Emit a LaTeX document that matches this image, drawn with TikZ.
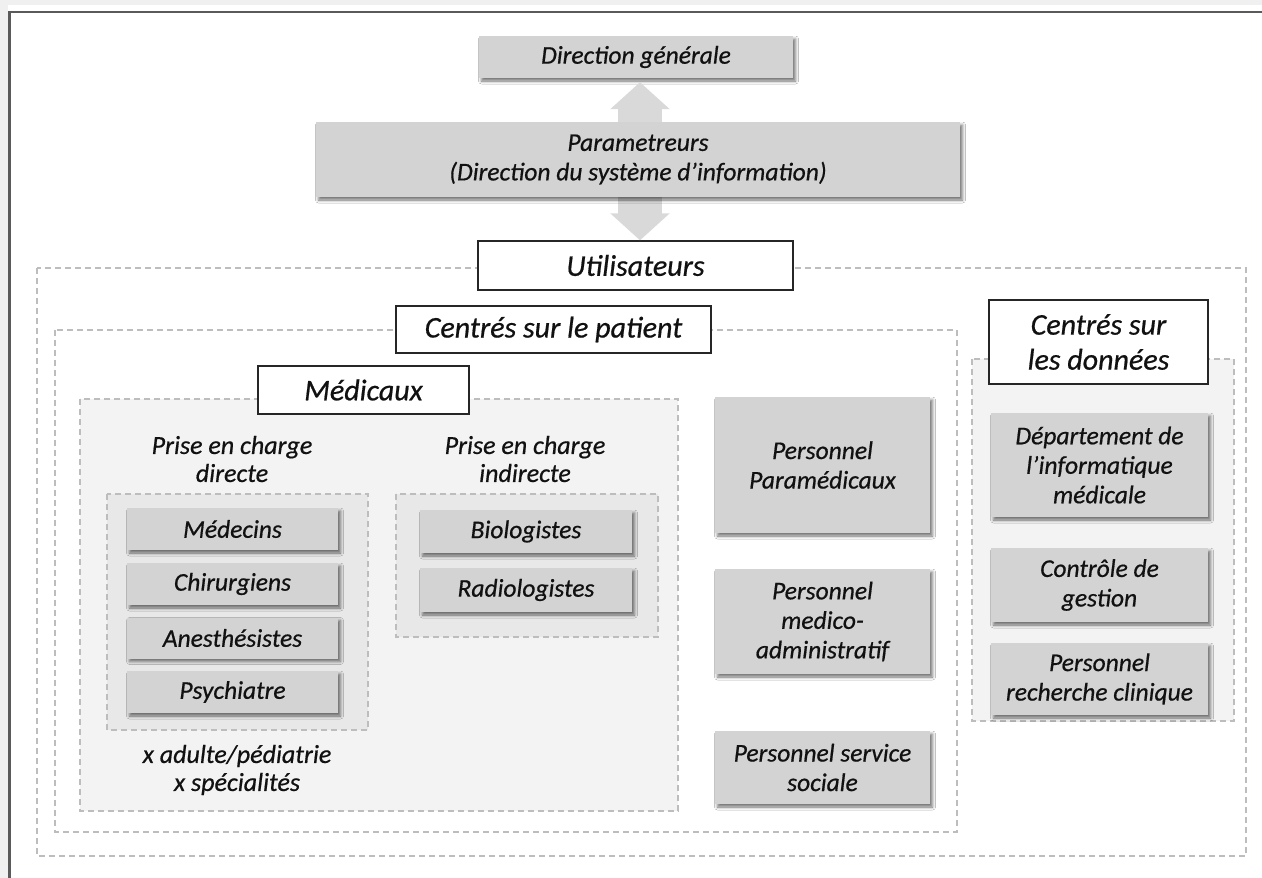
\documentclass[tikz,border=0pt]{standalone}
\usepackage{fontspec}
\setmainfont{Carlito}[ItalicFeatures={FakeBold=0.6}]
\usetikzlibrary{arrows.meta,shadows.blur}

\definecolor{boxgray}{HTML}{D3D3D3}
\definecolor{arrowgray}{HTML}{D9D9D9}
\definecolor{dashgray}{HTML}{BDBDBD}
\definecolor{panelgray}{HTML}{F3F3F3}
\definecolor{innergray}{HTML}{E8E8E8}
\definecolor{framegray}{HTML}{5A5A5A}
\definecolor{pagegray}{HTML}{EFF0EF}
\definecolor{inkgray}{HTML}{111111}

\tikzset{
  every node/.style={text=inkgray},
  graybox/.style={fill=boxgray, align=center, inner sep=0pt,
    font=\fontsize{25.5}{29.5}\itshape,
    blur shadow={shadow xshift=2.5pt, shadow yshift=-3pt,
      shadow blur radius=3pt, shadow opacity=55}},
  labelbox/.style={fill=white, draw=black!85, line width=1.4pt,
    align=center, inner sep=0pt, font=\fontsize{30}{35}\itshape},
  groupbox/.style={draw=dashgray, dash pattern=on 6pt off 4pt, line width=1.3pt},
  plaintext/.style={align=center, inner sep=0pt, font=\fontsize{26}{28}\itshape},
  linkarrow/.style={draw=arrowgray, line width=44pt,
    {Triangle[width=58pt,length=27pt]}-{Triangle[width=58pt,length=27pt]}},
}

\begin{document}
\begin{tikzpicture}[x=1pt, y=-1pt]
\useasboundingbox (0,0) rectangle (1262,878);

% page and frame
\fill[pagegray] (0,0) rectangle (1262,878);
\fill[white] (8,5) rectangle (1262,878);
\draw[framegray, line width=2.5pt] (9.5,878) -- (9.5,12) -- (1262,12);

% nested groups
\draw[groupbox] (37,268) rectangle (1246,856);
\draw[groupbox, fill=white] (55,330) rectangle (957,832);
\draw[groupbox, fill=panelgray] (80,399) rectangle (678,811);
\draw[groupbox, fill=innergray] (107,494) rectangle (368,730);
\draw[groupbox, fill=innergray] (396,494) rectangle (658,637);
\draw[groupbox, fill=panelgray] (972,359) rectangle (1234,721);

% top of the hierarchy
\node[graybox, minimum width=314, minimum height=42] (dg) at (636,57) {Direction générale};
\node[labelbox, minimum width=315, minimum height=49] (ut) at (635.5,265.5) {Utilisateurs};
\draw[linkarrow, shorten <=4pt] (dg.south -| 640,0) -- (ut.north -| 640,0);
\node[graybox, minimum width=644, minimum height=75] (par) at (638,159.5)
  {Parametreurs\\(Direction du système d’information)};

% group labels
\node[labelbox, minimum width=315, minimum height=47] (csp) at (553.5,329.5) {Centrés sur le patient};
\node[labelbox, minimum width=211, minimum height=48] (med) at (363.5,390) {Médicaux};
\node[labelbox, minimum width=219, minimum height=84] (csd) at (1098.5,342) {Centrés sur\\les données};

% medical staff
\node[plaintext] (pdir) at (232,459) {Prise en charge\\directe};
\node[plaintext] (pind) at (525,459) {Prise en charge\\indirecte};
\node[graybox, minimum width=211, minimum height=42] (medecins) at (232.5,529) {Médecins};
\node[graybox, minimum width=211, minimum height=42] (chir) at (232.5,584) {Chirurgiens};
\node[graybox, minimum width=211, minimum height=41] (anes) at (232.5,638) {Anesthésistes};
\node[graybox, minimum width=211, minimum height=42] (psy) at (232.5,692) {Psychiatre};
\node[plaintext] (mult) at (237,770) {x adulte/pédiatrie\\x spécialités};
\node[graybox, minimum width=212, minimum height=43] (bio) at (526,531.5) {Biologistes};
\node[graybox, minimum width=212, minimum height=44] (radio) at (526,590) {Radiologistes};

% other patient-centred staff
\node[graybox, minimum width=215, minimum height=136] (para) at (822.5,465) {Personnel\\Paramédicaux};
\node[graybox, minimum width=215, minimum height=105] (madm) at (822.5,621.5) {Personnel\\medico-\\administratif};
\node[graybox, minimum width=215, minimum height=73] (soc) at (822.5,767.5) {Personnel service\\sociale};

% data-centred staff
\node[graybox, minimum width=217, minimum height=104] (dim) at (1099.5,465) {Département de\\l’informatique\\médicale};
\node[graybox, minimum width=217, minimum height=74] (cg) at (1099.5,585) {Contrôle de\\gestion};
\node[graybox, minimum width=217, minimum height=72] (rc) at (1099.5,679) {Personnel\\recherche clinique};
\end{tikzpicture}
\end{document}
